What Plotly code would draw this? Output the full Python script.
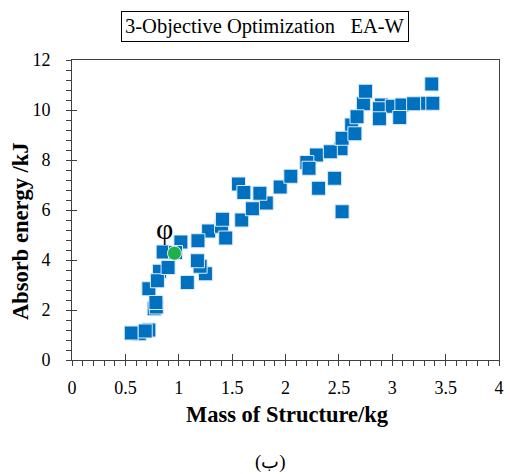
import plotly.graph_objects as go

# Pareto front of the 3-objective optimisation (EA-W): mass vs. absorbed energy.
# Designs partly covered by their neighbours come first so later ones sit on top.
mass_kg = [
    0.63, 0.72, 0.77, 0.79, 0.72, 0.82, 0.854, 1.02, 1.25, 1.20,
    1.28, 1.56, 1.82, 2.29, 2.20, 2.73, 2.90, 2.88, 3.00, 3.09,
    3.07, 3.31, 3.38, 2.62, 1.40, 2.52,
    0.555, 0.686, 0.786, 0.80, 0.90, 0.97, 1.08, 1.175, 1.18, 1.41,
    1.59, 1.44, 1.69, 1.61, 1.76, 1.95, 2.05, 2.22, 2.31, 2.46,
    2.53, 2.42, 2.53, 2.65, 2.67, 2.75, 2.88, 3.20, 3.37,
]
absorb_energy_kj = [
    1.05, 1.20, 2.05, 2.12, 2.85, 3.55, 4.32, 4.72, 3.45, 3.75,
    5.16, 7.04, 6.28, 8.20, 7.90, 10.25, 10.20, 10.05, 10.15, 10.20,
    9.70, 10.27, 10.27, 9.40, 5.35, 8.45,
    1.08, 1.16, 2.30, 3.17, 3.70, 4.30, 3.10, 3.97, 4.77, 5.63,
    5.60, 4.88, 6.05, 6.70, 6.67, 6.92, 7.35, 7.67, 6.87, 7.27,
    5.93, 8.33, 8.87, 9.05, 9.73, 10.75, 9.65, 10.25, 11.04,
]

# Selected compromise design
best_mass = [0.96]
best_energy = [4.27]
best_label = "φ"

x_ticks = [0, 0.5, 1, 1.5, 2, 2.5, 3, 3.5, 4]
x_tick_text = ["0", "0.5", "1", "1.5", "2", "2.5", "3", "3.5", "4"]
y_ticks = [0, 2, 4, 6, 8, 10, 12]

title_text = "3-Objective Optimization&nbsp;&nbsp;&nbsp;EA-W"
x_title = "Mass of Structure/kg"
y_title = "Absorb energy /kJ"
caption = "(ب)"

SERIF = "Liberation Serif, Times New Roman, serif"
AXIS_COLOR = "#404040"

fig = go.Figure()

fig.add_trace(go.Scatter(
    x=mass_kg, y=absorb_energy_kj, mode="markers",
    marker=dict(symbol="square", size=14, color="#0070C0",
                line=dict(color="#DCEAF7", width=1)),
    showlegend=False, hoverinfo="x+y",
))

fig.add_trace(go.Scatter(
    x=best_mass, y=best_energy, mode="markers",
    marker=dict(symbol="circle", size=14, color="#1DB04B",
                line=dict(color="#E6F5EA", width=1)),
    showlegend=False, hoverinfo="x+y",
))

# Empty trace that carries the overlay axes used for the inward half of major ticks
fig.add_trace(go.Scatter(x=[], y=[], xaxis="x2", yaxis="y2",
                         showlegend=False, hoverinfo="skip"))

fig.add_annotation(
    x=best_mass[0] - 0.09, y=best_energy[0] + 1.0, text=best_label,
    showarrow=False, font=dict(family=SERIF, size=30, color="black"),
    xanchor="center", yanchor="middle",
)

fig.add_annotation(
    xref="paper", yref="paper", x=0.453, y=1.11,
    text=title_text, showarrow=False, xanchor="center", yanchor="middle",
    font=dict(family=SERIF, size=20.5, color="black"),
    bordercolor="black", borderwidth=1, borderpad=3, bgcolor="white",
)

fig.add_annotation(
    xref="paper", yref="paper", x=0.466, y=-0.34,
    text=caption, showarrow=False, xanchor="center", yanchor="middle",
    font=dict(family=SERIF, size=19, color="black"),
)

# Axis titles
fig.add_annotation(
    xref="paper", yref="paper", x=0.505, y=-0.183,
    text=f"<b>{x_title}</b>", showarrow=False, xanchor="center", yanchor="middle",
    font=dict(family=SERIF, size=22.5, color="black"),
)
fig.add_annotation(
    xref="paper", yref="paper", x=-0.122, y=0.43,
    text=f"<b>{y_title}</b>", showarrow=False, textangle=-90,
    xanchor="center", yanchor="middle",
    font=dict(family=SERIF, size=22.5, color="black"),
)

axis_common = dict(
    showgrid=False, zeroline=False, showline=True, linecolor=AXIS_COLOR,
    linewidth=1, mirror=True, ticks="outside", ticklen=5, tickwidth=1,
    tickcolor=AXIS_COLOR, automargin=False,
    tickfont=dict(family=SERIF, size=18, color="black"),
)

fig.update_layout(
    width=510, height=474,
    margin=dict(l=72, r=11, t=60, b=114),
    paper_bgcolor="white", plot_bgcolor="white",
    xaxis=dict(
        axis_common, range=[0, 4], tickvals=x_ticks, ticktext=x_tick_text,
        ticklabelstandoff=6,
        minor=dict(dtick=0.1, ticks="outside", ticklen=5, tickcolor=AXIS_COLOR),
    ),
    yaxis=dict(
        axis_common, range=[0, 12], tickvals=y_ticks,
        ticklabelstandoff=12,
        minor=dict(dtick=0.4, ticks="outside", ticklen=5, tickcolor=AXIS_COLOR),
    ),
    xaxis2=dict(overlaying="x", range=[0, 4], tickvals=x_ticks, ticks="inside",
                ticklen=6, tickcolor=AXIS_COLOR, showticklabels=False,
                showgrid=False, zeroline=False, showline=False, side="bottom",
                automargin=False),
    yaxis2=dict(overlaying="y", range=[0, 12], tickvals=y_ticks, ticks="inside",
                ticklen=5, tickcolor=AXIS_COLOR, showticklabels=False,
                showgrid=False, zeroline=False, showline=False, side="left",
                automargin=False),
)

fig.write_html("out.html")
